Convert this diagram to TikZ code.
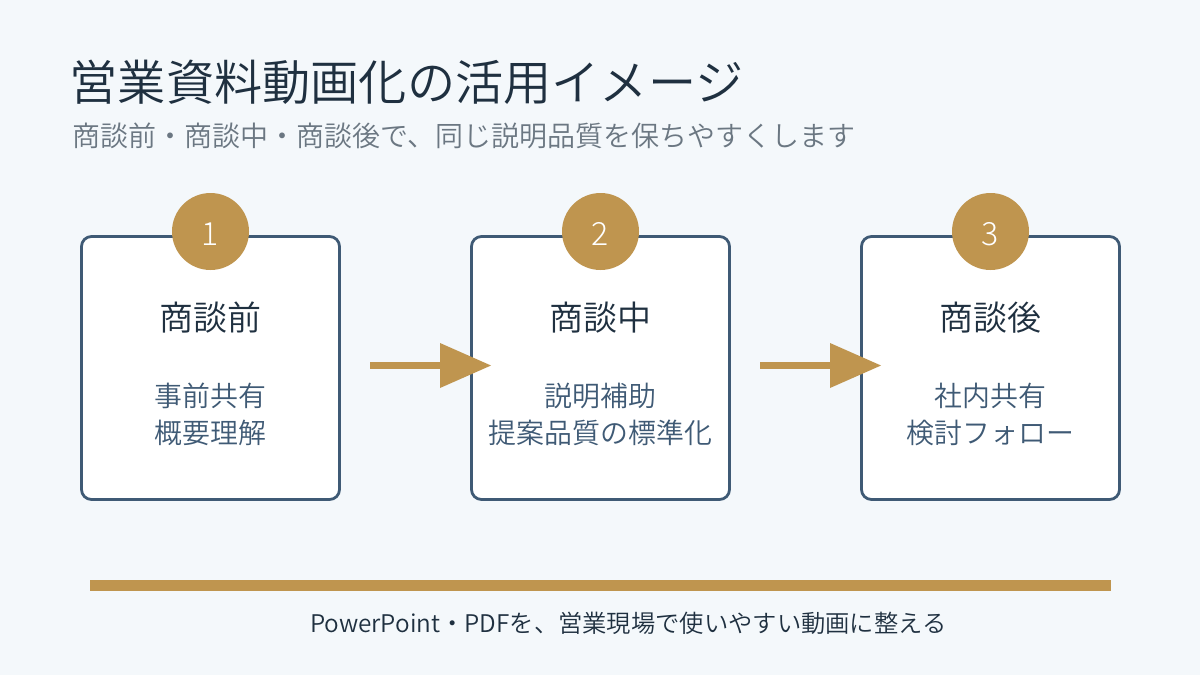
\documentclass[tikz,border=0pt]{standalone}
\usepackage{fontspec}
\setmainfont{Noto Sans CJK JP DemiLight}
\newfontfamily\thinfont{Noto Sans CJK JP Light}
\definecolor{bgc}{HTML}{F4F8FB}
\definecolor{ink}{HTML}{1F3040}
\definecolor{subc}{HTML}{6B7782}
\definecolor{navy}{HTML}{3F5A75}
\definecolor{gold}{HTML}{BF954F}
\tikzset{x=1pt,y=-1pt,
 card/.style={draw=navy,line width=2.8pt,fill=white,rounded corners=10pt,minimum width=258pt,minimum height=263pt,anchor=center},
 badge/.style={circle,fill=gold,minimum size=77pt,inner sep=0pt},
 num/.style={inner sep=0pt,text=white,font=\thinfont\fontsize{32}{36}\selectfont},
 head/.style={text=ink,font=\fontsize{34}{40}\selectfont,inner sep=0pt},
 body/.style={text=navy,font=\fontsize{27.9}{37}\selectfont,align=center,inner sep=0pt},
 flow/.style={draw=gold,line width=7pt},
 tip/.style={fill=gold,draw=none}}
\begin{document}
\begin{tikzpicture}
\useasboundingbox (0,0) rectangle (1200,675);
\fill[bgc] (0,0) rectangle (1200,675);
\node[anchor=west,inner sep=0pt,text=ink,font=\fontsize{48.2}{58}\selectfont] (title) at (69.5,82) {営業資料動画化の活用イメージ};
\node[anchor=west,inner sep=0pt,text=subc,font=\fontsize{28}{34}\selectfont] (sub) at (72,136) {商談前・商談中・商談後で、同じ説明品質を保ちやすくします};
\node[card] (c1) at (210.5,368) {};
\node[card] (c2) at (600.5,368) {};
\node[card] (c3) at (990.5,368) {};
\node[badge] (b1) at (210.5,231.5) {};
\node[badge] (b2) at (600.5,231.5) {};
\node[badge] (b3) at (990.5,231.5) {};
\node[num] (n1) at (210.5,234) {1};
\node[num] (n2) at (600.5,234) {2};
\node[num] (n3) at (990.5,234) {3};
\node[head] (h1) at (210,318) {商談前};
\node[head] (h2) at (600,318) {商談中};
\node[head] (h3) at (990,318) {商談後};
\node[body] (t1) at (210.3,414.5) {事前共有\\概要理解};
\node[body] (t2) at (600.3,414.5) {説明補助\\提案品質の標準化};
\node[body] (t3) at (990.3,414.5) {社内共有\\検討フォロー};
\coordinate (a1s) at (370,365.5); \coordinate (a1m) at (440,365.5);
\coordinate (a2s) at (760,365.5); \coordinate (a2m) at (830,365.5);
\draw[flow] (a1s) -- (a1m);
\draw[flow] (a2s) -- (a2m);
\fill[tip] (440,343) -- (491,365.5) -- (440,388) -- cycle;
\fill[tip] (830,343) -- (881,365.5) -- (830,388) -- cycle;
\fill[gold] (90,580) rectangle (1111,591);
\node[inner sep=0pt,text=ink,font=\fontsize{24.3}{30}\selectfont] (foot) at (628.3,623) {PowerPoint・PDFを、営業現場で使いやすい動画に整える};
\end{tikzpicture}
\end{document}
